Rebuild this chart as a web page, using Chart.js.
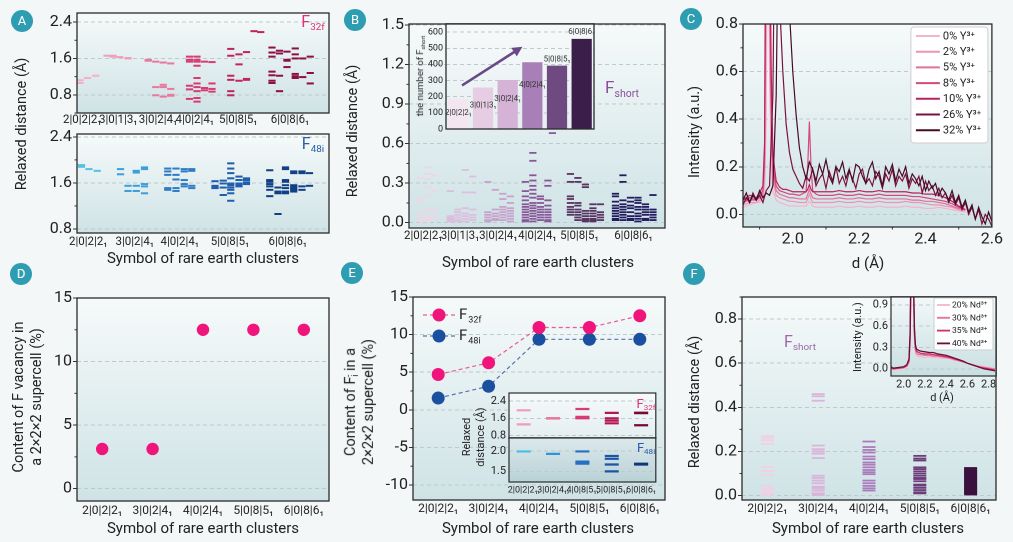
<!DOCTYPE html>
<html><head><meta charset="utf-8">
<script src="https://cdn.jsdelivr.net/npm/chart.js@4.4.1/dist/chart.umd.min.js"></script>
<style>
html,body{margin:0;padding:0;background:#f3f7f7;}
#root{position:relative;width:1013px;height:542px;overflow:hidden;font-family:Roboto,"Noto Sans",sans-serif;color:#222;}
#root canvas{position:absolute;}
.t{position:absolute;white-space:nowrap;transform:translate(-50%,-50%);line-height:1.25;text-align:center;}
.t.r{transform:translate(-50%,-50%) rotate(-90deg);}
.bd{position:absolute;width:22px;height:22px;border-radius:50%;background:#2e9db2;color:#fff;font-size:13px;line-height:22px;text-align:center;transform:translate(-50%,-50%);}
sub{font-size:.62em;vertical-align:-.3em;line-height:0;}
sup{font-size:.62em;vertical-align:.45em;line-height:0;}
</style></head>
<body><div id="root"></div>
<script>
// ================= DATA =================
const CL6 = ['2|0|2|2₁','3|0|1|3₁','3|0|2|4₁','4|0|2|4₁','5|0|8|5₁','6|0|8|6₁'];
const CL5 = ['2|0|2|2₁','3|0|2|4₁','4|0|2|4₁','5|0|8|5₁','6|0|8|6₁'];
const EI_LABELS = ['2|0|2|2₁,','3|0|2|4₁,','4|0|8|5₁,','5|0|8|5₁,','6|0|8|6₁'];

// Panel A (top, F32f): [slot, relaxed distances...]
const A32_POS = [0.7,5.5,10.8,15.7,21.5,28.4];
const A32_C1 = [[0.4,1.12,1.06],[1.4,1.17],[2.5,1.22]];
const A32_C2 = [[4.0,1.66],[4.8,1.66,1.64],[5.7,1.63],[6.8,1.61,1.6]];
const A32_C3 = [[9.5,1.57,1.55],[10.5,1.53,0.97,0.79],[11.5,1.51,1.02,0.97,0.76],[12.5,1.49,0.93,0.8,0.78]];
const A32_C4 = [[15,1.64,1.57,1.53,1.0,0.92,0.71],[16,1.64,1.57,1.53,1.44,1.17,1.05,0.97,0.88,0.73,0.65],[17,1.53,0.95,0.9],[18,1.52,1.05,0.93,0.87]];
const A32_C5 = [[20.5,1.81,1.66,1.22,1.13,0.88,0.79],[21.6,1.69,1.47,1.11],[22.6,1.74,1.15,1.13],[23.6,2.2],[24.5,2.18]];
const A32_C6 = [[26,1.84,1.73,1.64,1.31,1.23,1.11,1.06],[27,1.77,1.71,1.22,0.88],[28,1.75,1.57,1.55,1.41],[29.1,1.82,1.69,1.6,1.26,1.21,1.17],[30.1,1.6,1.19],[31.1,1.64,1.28,1.05]];
// Panel A (bottom, F48i)
const A48_POS = [1.5,7.7,13.7,20.4,28.1];
const A48_C1 = [[0.6,1.91,1.88],[1.6,1.84],[2.7,1.81]];
const A48_C2 = [[5.8,1.84,1.75],[6.8,1.55,1.46],[7.9,1.81,1.78,1.55,1.46],[9.0,1.87,1.84,1.58,1.54,1.42]];
const A48_C3 = [[12.1,1.85,1.8,1.74,1.51,1.48],[13.2,1.85,1.74,1.66,1.51,1.46],[14.3,1.84,1.8,1.65,1.58,1.54],[15.3,1.84,1.81,1.55,1.51]];
const A48_C4 = [[18.4,1.63,1.55,1.52,1.51],[19.5,1.64,1.59,1.52,1.39],[20.5,1.94,1.85,1.77,1.68,1.59,1.56,1.52,1.48,1.42,1.29],[21.6,1.71,1.65,1.59,1.56,1.54],[22.6,1.68,1.65,1.61,1.58]];
const A48_C5 = [[25.7,1.82,1.65,1.62,1.58,1.54,1.48,1.37],[26.8,1.52,1.45,1.42,1.06],[27.8,1.87,1.84,1.65,1.62,1.56,1.51,1.45,1.42],[28.9,1.8,1.77,1.56,1.54,1.51,1.48,1.45],[30.0,1.8,1.77,1.54,1.48],[31.0,1.77,1.55]];

// Panel B (F short)
const B_POS = [1.9,6.8,11.9,17.1,22.7,29.9];
const B_C1 = [[1.5,0.34,0.18,0.16,0.08,0.05,0.02,0.01],[2.5,0.42,0.37,0.33,0.27,0.2,0.1,0.05,0.03,0.01],[3.4,0.36,0.24,0.1,0.06,0.03]];
const B_C2 = [[5.5,0.24,0.05,0.04,0.03,0.02,0.01],[6.5,0.1,0.08,0.06,0.04,0.02,0.01],[7.5,0.4,0.23,0.11,0.07,0.05,0.03,0.01],[8.5,0.35,0.23,0.1,0.06,0.04,0.02]];
const B_C3 = [[10.5,0.31,0.08,0.06,0.04,0.02,0.01],[11.5,0.25,0.1,0.07,0.05,0.03,0.02],[12.5,0.22,0.18,0.12,0.1,0.08,0.06,0.04,0.02],[13.5,0.2,0.15,0.11,0.09,0.07,0.05,0.03,0.01]];
const B_C4 = [[15.5,0.31,0.24,0.2,0.17,0.14,0.12,0.1,0.08,0.06,0.04,0.02,0.01],[16.5,0.53,0.47,0.36,0.32,0.28,0.25,0.22,0.19,0.15,0.13,0.11,0.09,0.07,0.05,0.03,0.01],[17.5,0.2,0.18,0.15,0.12,0.1,0.08,0.06,0.04,0.02],[18.5,0.32,0.28,0.17,0.13,0.1,0.08,0.06,0.04,0.02,0.01],[19.1,0.68]];
const B_C5 = [[21.5,0.37,0.31,0.2,0.18,0.15,0.12,0.1,0.08,0.06],[22.5,0.34,0.31,0.15,0.13,0.1,0.08,0.06,0.04,0.02],[23.5,0.29,0.27,0.09,0.07,0.05,0.03,0.02,0.01],[24.5,0.14,0.11,0.09,0.07,0.05,0.03,0.02,0.01],[25.5,0.14,0.08,0.06,0.04,0.02]];
const B_C6 = [[27.5,0.22,0.2,0.16,0.13,0.11,0.09,0.07,0.05,0.03,0.02],[28.5,0.36,0.31,0.17,0.14,0.12,0.1,0.08,0.06,0.04,0.02],[29.5,0.19,0.16,0.13,0.11,0.08,0.05,0.03,0.02],[30.5,0.19,0.17,0.15,0.12,0.1,0.07,0.05,0.03,0.01],[31.5,0.14,0.12,0.1,0.08,0.06,0.03,0.02],[32.5,0.21,0.1,0.08,0.06,0.04,0.02]];
// Panel B inset: number of F short
const B_BARS = [186,257,304,414,393,559];
const B_ARROW = [[0.15,270],[2.6,510]];

// Panel C: XRD curves
const XC = [1.85,1.86,1.87,1.88,1.89,1.90,1.91,1.92,1.93,1.94,1.95,1.96,1.97,1.98,1.99,2.00,2.01,2.02,2.03,2.04,2.05,2.06,2.07,2.08,2.09,2.10,2.11,2.12,2.13,2.14,2.15,2.16,2.17,2.18,2.19,2.20,2.21,2.22,2.23,2.24,2.25,2.26,2.27,2.28,2.29,2.30,2.31,2.32,2.33,2.34,2.35,2.36,2.37,2.38,2.39,2.40,2.41,2.42,2.43,2.44,2.45,2.46,2.47,2.48,2.49,2.50,2.51,2.52,2.53,2.54,2.55,2.56,2.57,2.58,2.59,2.60];
const Y32 = [0.06,0.09,0.05,0.08,0.06,0.1,0.07,0.09,0.08,0.12,0.5,1.6,1.5,1.2,0.85,0.6,0.42,0.28,
  0.2,0.15,0.22,0.19,0.14,0.21,0.17,0.23,0.16,0.13,0.2,0.18,0.22,0.15,0.19,0.14,0.21,0.2,0.16,0.13,0.19,0.22,0.15,0.18,0.12,0.2,0.17,0.21,0.14,0.19,
  0.16,0.2,0.13,0.17,0.15,0.12,0.16,0.1,0.14,0.11,0.13,0.08,0.11,0.09,0.06,0.1,0.05,0.08,0.03,0.06,0.01,0.04,-0.02,0.03,-0.01,-0.04,0.01,-0.03];
const Y26 = [0.04,0.07,0.05,0.09,0.06,0.08,0.05,0.1,0.12,0.5,1.8,0.9,0.6,0.38,0.26,0.19,0.16,0.13,
  0.11,0.16,0.14,0.19,0.12,0.15,0.17,0.11,0.18,0.14,0.2,0.13,0.16,0.12,0.18,0.15,0.11,0.17,0.19,0.13,0.15,0.12,0.18,0.16,0.11,0.17,0.14,0.19,0.12,0.16,
  0.14,0.17,0.11,0.15,0.13,0.16,0.09,0.14,0.1,0.12,0.08,0.11,0.07,0.09,0.05,0.08,0.04,0.07,0.02,0.05,0.0,0.03,-0.02,0.02,-0.04,0.0,-0.02,-0.05];
const XCP = [1.85,1.87,1.89,1.90,1.91,1.915,1.92,1.925,1.93,1.935,1.94,1.95,1.96,1.97,1.98,1.99,2.00,2.02,2.04,2.045,2.05,2.055,2.06,2.07,2.08,2.10,2.12,2.14,2.16,2.18,2.20,2.22,2.24,2.26,2.28,2.30,2.32,2.34,2.36,2.38,2.40,2.42,2.44,2.46,2.48,2.50,2.52];
const Y0 = [0.03,0.04,0.05,0.05,0.07,0.1,0.4,1.6,0.6,0.2,0.1,0.06,0.05,0.045,0.04,0.035,0.035,0.035,0.035,0.045,0.055,0.045,0.035,0.03,0.03,
  0.03,0.03,0.035,0.03,0.03,0.035,0.03,0.03,0.035,0.03,0.03,0.03,0.035,0.03,0.03,0.025,0.025,0.03,0.025,0.02,0.015,0.01];
const Y2 = [0.04,0.05,0.05,0.06,0.08,0.15,0.9,2.0,0.8,0.3,0.15,0.08,0.07,0.065,0.06,0.055,0.055,0.05,0.05,0.065,0.085,0.065,0.05,0.05,0.05,
  0.05,0.05,0.055,0.05,0.05,0.055,0.05,0.05,0.055,0.05,0.05,0.05,0.055,0.05,0.05,0.045,0.04,0.04,0.035,0.03,0.02,0.015];
const Y5 = [0.05,0.06,0.06,0.07,0.09,0.2,1.2,2.0,1.0,0.4,0.18,0.1,0.085,0.08,0.075,0.07,0.07,0.065,0.065,0.085,0.105,0.085,0.07,0.065,0.065,
  0.065,0.065,0.07,0.065,0.065,0.07,0.065,0.065,0.07,0.065,0.065,0.065,0.065,0.06,0.06,0.055,0.055,0.05,0.045,0.035,0.025,0.02];
const Y8 = [0.05,0.07,0.06,0.08,0.1,0.25,1.5,2.0,1.2,0.5,0.2,0.12,0.1,0.095,0.09,0.085,0.085,0.08,0.095,0.2,0.39,0.2,0.1,0.085,0.08,
  0.08,0.08,0.085,0.08,0.08,0.085,0.08,0.08,0.085,0.08,0.08,0.08,0.08,0.075,0.075,0.07,0.065,0.06,0.055,0.045,0.03,0.02];
const Y10 = [0.06,0.08,0.07,0.09,0.12,0.3,1.8,2.0,1.3,0.6,0.25,0.14,0.115,0.105,0.105,0.1,0.095,0.095,0.095,0.105,0.125,0.105,0.095,0.095,0.095,
  0.095,0.095,0.1,0.095,0.095,0.1,0.095,0.095,0.1,0.095,0.095,0.095,0.095,0.09,0.09,0.085,0.085,0.08,0.07,0.055,0.035,0.02];

// Panel D
const D_VAC = [3.125,3.125,12.5,12.5,12.5];
// Panel E
const E_F32 = [4.69,6.25,10.94,10.94,12.5];
const E_F48 = [1.56,3.125,9.375,9.375,9.375];
const EI32 = [[1.97,1.32],[1.61,1.59],[2.03,1.67,1.62,1.6],[1.85,1.6,1.49,1.37],[1.86,1.84,1.28]];
const EI48 = [[1.99],[1.93],[1.99,1.74,1.71,1.69],[1.88,1.81,1.67,1.5],[1.69,1.67]];

// Panel F
const F_C1 = [0.27,0.26,0.25,0.234,0.128,0.112,0.094,0.044,0.033,0.023,0.011,0.003];
const F_C2 = [0.46,0.45,0.43,0.227,0.21,0.2,0.19,0.17,0.09,0.08,0.068,0.056,0.04,0.033,0.023,0.01,0.003];
const F_C3 = [0.245,0.22,0.207,0.195,0.177,0.165,0.15,0.14,0.128,0.116,0.106,0.097,0.068,0.056,0.044,0.033,0.023];
const F_C4 = [0.18,0.168,0.159,0.128,0.12,0.11,0.1,0.09,0.08,0.075,0.065,0.05,0.045,0.035,0.025,0.015,0.01];
const F_C5 = [0.125,0.12,0.115,0.11,0.105,0.1,0.095,0.09,0.085,0.08,0.075,0.07,0.065,0.06,0.055,0.05,0.045,0.04,0.035,0.03,0.025,0.02,0.015,0.01,0.005];
const XF = [1.88,1.90,1.95,2.00,2.03,2.05,2.06,2.07,2.08,2.09,2.10,2.11,2.12,2.14,2.16,2.20,2.24,2.28,2.32,2.36,2.40,2.44,2.48,2.52,2.56,2.60,2.64,2.68,2.72,2.76,2.80,2.84,2.86];
const YF40 = [0.03,0.01,0.02,0.03,0.06,0.14,0.5,1.6,2.2,1.6,0.6,0.34,0.28,0.26,0.25,0.24,0.23,0.23,0.21,0.2,0.19,0.17,0.15,0.13,0.11,0.08,0.06,0.04,0.02,0.0,-0.01,-0.02,-0.03];
const YF35 = [0.02,0.0,0.01,0.02,0.05,0.12,0.45,1.5,2.1,1.5,0.55,0.3,0.25,0.23,0.22,0.21,0.21,0.2,0.19,0.18,0.17,0.16,0.14,0.12,0.1,0.08,0.06,0.04,0.02,0.01,0.0,-0.01,-0.02];
const YF30 = [0.01,0.0,0.01,0.02,0.04,0.1,0.4,1.4,2.0,1.4,0.5,0.27,0.22,0.2,0.2,0.19,0.19,0.18,0.18,0.17,0.16,0.15,0.13,0.12,0.1,0.08,0.06,0.04,0.03,0.02,0.01,0.0,0.0];
const YF20 = [0.0,-0.01,0.0,0.01,0.03,0.08,0.35,1.3,1.9,1.3,0.45,0.24,0.19,0.17,0.17,0.16,0.17,0.16,0.16,0.15,0.15,0.14,0.12,0.11,0.1,0.08,0.06,0.05,0.04,0.03,0.02,0.01,0.0];

// ================= RENDER =================
const root=document.getElementById('root');
Chart.defaults.font.family='Roboto, "Noto Sans", sans-serif';
Chart.defaults.color='#222';
Chart.defaults.animation=false;
Chart.defaults.events=[];
Chart.defaults.plugins.legend.display=false;
Chart.defaults.plugins.tooltip.enabled=false;
const GRID='#bfcacc';
const MAIN_BG={top:'#f6fafa',bottom:'#cfe3e6'};

Chart.register({id:'bg',
  beforeDraw(c,a,o){ if(!o.top) return; const ctx=c.ctx, ca=c.chartArea; const g=ctx.createLinearGradient(0,ca.top,0,ca.bottom); g.addColorStop(0,o.top); g.addColorStop(1,o.bottom); ctx.save(); ctx.fillStyle=g; ctx.fillRect(ca.left,ca.top,ca.width,ca.height); ctx.restore(); },
  afterDraw(c,a,o){ if(!o.top) return; const ctx=c.ctx, ca=c.chartArea; ctx.save(); ctx.strokeStyle='#2b2b2b'; ctx.lineWidth=o.lw||1.3; ctx.strokeRect(ca.left,ca.top,ca.width,ca.height); ctx.restore(); }
});
Chart.register({id:'minor', afterDraw(c,a,o){
  const ctx=c.ctx, ca=c.chartArea; ctx.save(); ctx.strokeStyle='#333'; ctx.lineWidth=1;
  const marks=(s,step,vert)=>{ const maj=s.ticks.map(t=>t.value); const st=Math.ceil(s.min/step-1e-6), en=Math.floor(s.max/step+1e-6);
    for(let k=st;k<=en;k++){ const v=k*step; if(maj.some(m=>Math.abs(m-v)<step/10)) continue; const p=s.getPixelForValue(v);
      ctx.beginPath(); if(vert){ctx.moveTo(ca.left-2.5,p);ctx.lineTo(ca.left,p);} else {ctx.moveTo(p,ca.bottom);ctx.lineTo(p,ca.bottom+2.5);} ctx.stroke(); } };
  if(o.y) marks(c.scales.y,o.y,true); if(o.x) marks(c.scales.x,o.x,false); ctx.restore(); }});

function mk(rect,yw,xh,config,padT=13,padR=12){
  const cv=document.createElement('canvas');
  const W=rect[2]+yw+padR, H=rect[3]+padT+xh;
  cv.width=W; cv.height=H; cv.style.left=(rect[0]-yw)+'px'; cv.style.top=(rect[1]-padT)+'px';
  cv.style.width=W+'px'; cv.style.height=H+'px';
  root.appendChild(cv);
  const o=config.options=config.options||{};
  o.responsive=false; o.maintainAspectRatio=false; o.devicePixelRatio=2;
  o.layout={padding:{left:0,top:padT,right:padR,bottom:0}};
  o.scales.x.afterFit=s=>{s.height=xh;};
  o.scales.y.afterFit=s=>{s.width=yw;};
  return new Chart(cv,config);
}
function yAx(min,max,ticks,dec,fs,opt={}){
  return {type:'linear',min,max,
    afterBuildTicks:s=>{s.ticks=ticks.map(v=>({value:v}));},
    ticks:{font:{size:fs},color:'#222',padding:opt.pad??1,callback:v=>Number(v).toFixed(dec)},
    grid:{color:GRID,lineWidth:1,drawTicks:(opt.tl??4)>0,tickLength:opt.tl??4,tickColor:'#333',tickWidth:1},
    border:{display:false,dash:[4,3]}};
}
function xLin(min,max,pos,labels,fs,pad){
  return {type:'linear',min,max,
    afterBuildTicks:s=>{s.ticks=pos.map(v=>({value:v}));},
    ticks:{autoSkip:false,maxRotation:0,minRotation:0,font:{size:fs},color:'#222',padding:pad,callback:(v,i)=>labels?labels[i]:Number(v).toFixed(1)},
    grid:{display:false,drawTicks:false},border:{display:false}};
}
function xCat(labels,fs,pad){
  return {type:'category',labels,offset:true,ticks:{autoSkip:false,maxRotation:0,minRotation:0,font:{size:fs},color:'#222',padding:pad},
    grid:{display:false,drawTicks:false},border:{display:false}};
}
function dashDS(cols,color,r,bw){
  return {data:cols.flatMap(c=>c.slice(1).map(v=>({x:c[0],y:v}))),showLine:false,pointStyle:'line',
    pointRadius:r,pointHoverRadius:r,pointBorderWidth:bw,pointBorderColor:color,borderColor:color,backgroundColor:color};
}
function dashCol(vals,idx,color,r,bw){ return dashDS([[idx].concat(vals)],color,r,bw); }
function txt(html,x,y,size,extra=''){ const d=document.createElement('div'); d.className='t'+(extra.includes('rot')?' r':''); d.innerHTML=html; d.style.left=x+'px'; d.style.top=y+'px'; d.style.fontSize=size+'px'; const col=extra.split(' ').find(s=>s.startsWith('#')); if(col) d.style.color=col; root.appendChild(d); return d; }

// ---- Panel A top
mk([77,13,252,100],56,14,{type:'scatter',
  data:{datasets:[A32_C1,A32_C2,A32_C3,A32_C4,A32_C5,A32_C6].map((g,i)=>dashDS(g,['#f4b0c5','#efa0b9','#e7799c','#d93a72','#c0245e','#8e0f43'][i],3.6,2))},
  options:{scales:{x:xLin(0,33.6,A32_POS,CL6,11.5,0),y:yAx(0.4,2.6,[0.8,1.6,2.4],1,16)},plugins:{bg:MAIN_BG,minor:{y:0.4}}}},12);
// ---- Panel A bottom
mk([77,134,252,99],56,16,{type:'scatter',
  data:{datasets:[A48_C1,A48_C2,A48_C3,A48_C4,A48_C5].map((g,i)=>dashDS(g,['#55c0e2','#3d9ed9','#2f7cc6','#1f5eae','#103f86'][i],3.6,2))},
  options:{scales:{x:xLin(0,33.6,A48_POS,CL5,11.5,2),y:yAx(0.73,2.45,[0.8,1.6,2.4],1,16)},plugins:{bg:MAIN_BG,minor:{y:0.4}}}});

// ---- Panel B main
mk([409,24,256,204],60,16,{type:'scatter',
  data:{datasets:[B_C1,B_C2,B_C3,B_C4,B_C5,B_C6].map((g,i)=>dashDS(g,['#eed6e7','#dcbedf','#c8a2ce','#8a5898','#583463','#231c60'][i],3.6,1.8))},
  options:{scales:{x:xLin(0,34.1,B_POS,CL6,11.5,1),y:yAx(-0.04,1.508,[0,0.3,0.6,0.9,1.2,1.5],1,16)},plugins:{bg:MAIN_BG,minor:{y:0.15}}}});
// ---- Panel B inset
mk([446,24,148,105],28,16,{type:'bar',
  data:{labels:CL6,datasets:[{data:B_BARS,backgroundColor:['#f4e6f0','#e6cde3','#d4b3d6','#a97fb7','#6f4a80','#3b1f4a'],barPercentage:0.82,categoryPercentage:1}]},
  options:{scales:{x:{type:'category',ticks:{display:false},grid:{display:false,drawTicks:false},border:{display:false}},
    y:yAx(0,651,[0,100,200,300,400,500,600],0,9,{tl:0,pad:3})},
    plugins:{bg:{top:'#f7fafb',bottom:'#e6eff1'}}},
  plugins:[{id:'blab',afterDatasetsDraw(c){
    const ctx=c.ctx, xs=c.scales.x, ys=c.scales.y, dy=[14,18,19,23,-6,-7];
    ctx.save(); ctx.font='8px Roboto'; ctx.fillStyle='#333'; ctx.textAlign='center'; ctx.textBaseline='middle';
    c.getDatasetMeta(0).data.forEach((b,i)=>ctx.fillText(CL6[i],b.x,b.y+dy[i]));
    const p=B_ARROW.map(([a,v])=>[xs.getPixelForValue(a),ys.getPixelForValue(v)]);
    const ang=Math.atan2(p[1][1]-p[0][1],p[1][0]-p[0][0]);
    ctx.strokeStyle='#6a4a86'; ctx.fillStyle='#6a4a86'; ctx.lineWidth=2.6;
    ctx.beginPath(); ctx.moveTo(p[0][0],p[0][1]); ctx.lineTo(p[1][0]-7*Math.cos(ang),p[1][1]-7*Math.sin(ang)); ctx.stroke();
    ctx.beginPath(); ctx.moveTo(p[1][0],p[1][1]);
    ctx.lineTo(p[1][0]-10*Math.cos(ang)+5*Math.sin(ang),p[1][1]-10*Math.sin(ang)-5*Math.cos(ang));
    ctx.lineTo(p[1][0]-10*Math.cos(ang)-5*Math.sin(ang),p[1][1]-10*Math.sin(ang)+5*Math.cos(ang)); ctx.closePath(); ctx.fill();
    ctx.restore(); }}]},14,12);

// ---- Panel C
const C_SER=[['0% Y³⁺',XCP,Y0,'#f5b4c8'],['2% Y³⁺',XCP,Y2,'#ee94b3'],['5% Y³⁺',XCP,Y5,'#e2709a'],['8% Y³⁺',XCP,Y8,'#d34a7e'],['10% Y³⁺',XCP,Y10,'#b9225e'],['26% Y³⁺',XC,Y26,'#7c1040'],['32% Y³⁺',XC,Y32,'#470b25']];
mk([743,24,251,203],60,20,{type:'line',
  data:{datasets:C_SER.map((s,i)=>({label:s[0],data:s[1].map((x,j)=>({x,y:s[2][j]})),borderColor:s[3],borderWidth:1.2,pointRadius:0,order:6-i}))},
  options:{scales:{x:xLin(1.85,2.6,[2.0,2.2,2.4,2.6],null,16,3),y:yAx(-0.053,0.8,[0,0.2,0.4,0.6,0.8],1,16)},
    plugins:{bg:MAIN_BG,minor:{y:0.1,x:0.1}}},
  plugins:[{id:'cleg',afterDraw(c){
    const ctx=c.ctx, ca=c.chartArea, bx=ca.right-81, by=ca.top+3, bw=77, bh=116;
    ctx.save(); ctx.fillStyle='#ffffff'; ctx.strokeStyle='#cfcfcf'; ctx.lineWidth=1;
    ctx.beginPath(); ctx.roundRect(bx,by,bw,bh,3); ctx.fill(); ctx.stroke();
    ctx.font='11px Roboto'; ctx.textBaseline='middle';
    c.data.datasets.forEach((d,i)=>{ const y=by+9+i*15.7; ctx.strokeStyle=d.borderColor; ctx.lineWidth=2;
      ctx.beginPath(); ctx.moveTo(bx+5,y); ctx.lineTo(bx+29,y); ctx.stroke(); ctx.fillStyle='#222'; ctx.fillText(d.label,bx+32,y+0.5); });
    ctx.restore(); }}]});

// ---- Panel D
mk([77,298,252,203],56,18,{type:'line',
  data:{labels:CL5,datasets:[{data:D_VAC,showLine:false,pointRadius:6.2,pointBackgroundColor:'#f0157b',pointBorderWidth:0}]},
  options:{scales:{x:xCat(CL5,12,3),y:yAx(-0.97,15,[0,5,10,15],0,16)},plugins:{bg:MAIN_BG,minor:{y:2.5}}}});

// ---- Panel E
mk([413,297,252,203],56,18,{type:'line',
  data:{labels:CL5,datasets:[
    {label:'F32f',data:E_F32,borderColor:'#ea5b95',borderDash:[4,3],borderWidth:1.2,pointRadius:6.5,pointBackgroundColor:'#f0157b',pointBorderWidth:0},
    {label:'F48i',data:E_F48,borderColor:'#5573ad',borderDash:[4,3],borderWidth:1.2,pointRadius:6.5,pointBackgroundColor:'#1b4f9f',pointBorderWidth:0}]},
  options:{scales:{x:xCat(CL5,12,2),y:yAx(-12,15,[-10,-5,0,5,10,15],0,16)},plugins:{bg:MAIN_BG,minor:{y:2.5}}},
  plugins:[{id:'eleg',afterDraw(c){
    const ctx=c.ctx, ca=c.chartArea; ctx.save(); ctx.textBaseline='middle';
    c.data.datasets.forEach((d,i)=>{ const y=ca.top+18+i*21;
      ctx.strokeStyle=d.borderColor; ctx.lineWidth=1.2; ctx.setLineDash([4,3]); ctx.beginPath(); ctx.moveTo(ca.left+10,y); ctx.lineTo(ca.left+42,y); ctx.stroke(); ctx.setLineDash([]);
      ctx.fillStyle=d.pointBackgroundColor; ctx.beginPath(); ctx.arc(ca.left+26,y,6.5,0,Math.PI*2); ctx.fill();
      ctx.fillStyle='#222'; ctx.font='15px Roboto'; ctx.fillText(d.label[0],ca.left+46,y); const w=ctx.measureText(d.label[0]).width;
      ctx.font='9px Roboto'; ctx.fillText(d.label.slice(1),ca.left+47+w,y+5); });
    ctx.restore(); }}]});
// ---- Panel E inset (top F32f, bottom F48i)
const EC32=['#f29bb6','#e97a9e','#d83a74','#b3174f','#730b32'], EC48=['#45bfe0','#2f96d6','#276fc1','#1d55a6','#0f357a'];
mk([509,393,152,45],26,16,{type:'scatter',
  data:{datasets:EI32.map((v,i)=>dashCol(v,i,EC32[i],7,2.2))},
  options:{scales:{x:{type:'linear',min:-0.5,max:4.5,ticks:{display:false},grid:{display:false,drawTicks:false},border:{display:false}},
    y:yAx(0.69,2.77,[0.8,1.6,2.4],1,11,{tl:0,pad:3})},plugins:{bg:{top:'#f6fafa',bottom:'#e4eff1',lw:1.2}}}},14,4);
mk([509,438,152,44],26,16,{type:'scatter',
  data:{datasets:EI48.map((v,i)=>dashCol(v,i,EC48[i],7,2.2))},
  options:{scales:{x:xLin(-0.5,4.5,[0,1,2,3,4],EI_LABELS,9,3),
    y:yAx(1.24,2.32,[1.5,2.0],1,11,{tl:0,pad:3})},plugins:{bg:{top:'#dce9ec',bottom:'#b9d2d6',lw:1.2}}}},14,4);

// ---- Panel F
mk([742,297,254,203],56,18,{type:'scatter',
  data:{datasets:[F_C1,F_C2,F_C3,F_C4,F_C5].map((v,i)=>dashCol(v,i,['#efd0e6','#dbb4da','#ab7cbc','#6d3d7a','#3b123f'][i],6.5,1.8))},
  options:{scales:{x:xLin(-0.5,4.5,[0,1,2,3,4],CL5,12,2),y:yAx(-0.02,0.9,[0,0.2,0.4,0.6,0.8],1,16)},plugins:{bg:MAIN_BG,minor:{y:0.1}}}});
// ---- Panel F inset
const F_SER=[['20% Nd³⁺',YF20,'#f5b5c9'],['30% Nd³⁺',YF30,'#ea7098'],['35% Nd³⁺',YF35,'#d1306c'],['40% Nd³⁺',YF40,'#6b0f38']];
mk([891,297,105,79],24,16,{type:'line',
  data:{datasets:F_SER.map((s,i)=>({label:s[0],data:XF.map((x,j)=>({x,y:s[1][j]})),borderColor:s[2],borderWidth:1.3,pointRadius:0,order:3-i}))},
  options:{scales:{x:xLin(1.88,2.87,[2.0,2.2,2.4,2.6,2.8],null,11,2),y:yAx(-0.1,1.01,[0,0.3,0.6,0.9],1,11,{tl:0,pad:3})},
    plugins:{bg:{top:'#f3f8f9',bottom:'#c9dfe2',lw:1.2}}},
  plugins:[{id:'fleg',afterDraw(c){
    const ctx=c.ctx, ca=c.chartArea, bx=ca.right-62, by=ca.top+1, bw=59, bh=52;
    ctx.save(); ctx.fillStyle='rgba(255,255,255,0.92)'; ctx.strokeStyle='#cfcfcf'; ctx.lineWidth=1;
    ctx.beginPath(); ctx.roundRect(bx,by,bw,bh,2); ctx.fill(); ctx.stroke();
    ctx.font='8.5px Roboto'; ctx.textBaseline='middle';
    c.data.datasets.forEach((d,i)=>{ const y=by+7+i*12.8; ctx.strokeStyle=d.borderColor; ctx.lineWidth=1.8;
      ctx.beginPath(); ctx.moveTo(bx+3,y); ctx.lineTo(bx+16,y); ctx.stroke(); ctx.fillStyle='#222'; ctx.fillText(d.label,bx+18,y+0.5); });
    ctx.restore(); }}]},14,8);

// ---- Texts
[['A',22,21],['B',355,20],['C',691,19],['D',21,274],['E',352,273],['F',694,274]].forEach(([l,x,y])=>{
  const d=document.createElement('div'); d.className='bd'; d.textContent=l; d.style.left=x+'px'; d.style.top=y+'px'; root.appendChild(d); });
const XT='Symbol of rare earth clusters', RD='Relaxed distance (Å)';
txt(RD,22,124,14.5,'rot');
txt(XT,203,258,15);
txt('F<sub>32f</sub>',313,22,16,'#e2327e');
txt('F<sub>48i</sub>',313,144,16,'#2a5ea8');
txt(RD,353,131,14.5,'rot');
txt(XT,538,262,15);
txt('the number of F<sub>short</sub>',420,76,9.5,'rot');
txt('F<sub>short</sub>',622,88,17,'#8d4e9f');
txt('Intensity (a.u.)',695,132,14.5,'rot');
txt('d (Å)',868,263,15);
txt('Content of F vacancy in<br>a 2×2×2 supercell (%)',28,397,14.5,'rot');
txt(XT,203,528,15);
txt('Content of F<sub>i</sub><sup style="margin-left:-.3em">-</sup> in a<br>2×2×2 supercell (%)',360,402,14.5,'rot');
txt(XT,538,528,15);
txt('Relaxed<br>distance (Å)',474,437,11,'rot');
txt('F<sub>32f</sub>',646,404,13,'#e2327e');
txt('F<sub>48i</sub>',646,448,13,'#2a5ea8');
txt(RD,695,402,14.5,'rot');
txt(XT,868,528,15);
txt('F<sub>short</sub>',800,342,16,'#9b6aa8');
txt('Intensity (a.u.)',858,337,11,'rot');
txt('d (Å)',942,398,11);
</script></body></html>
